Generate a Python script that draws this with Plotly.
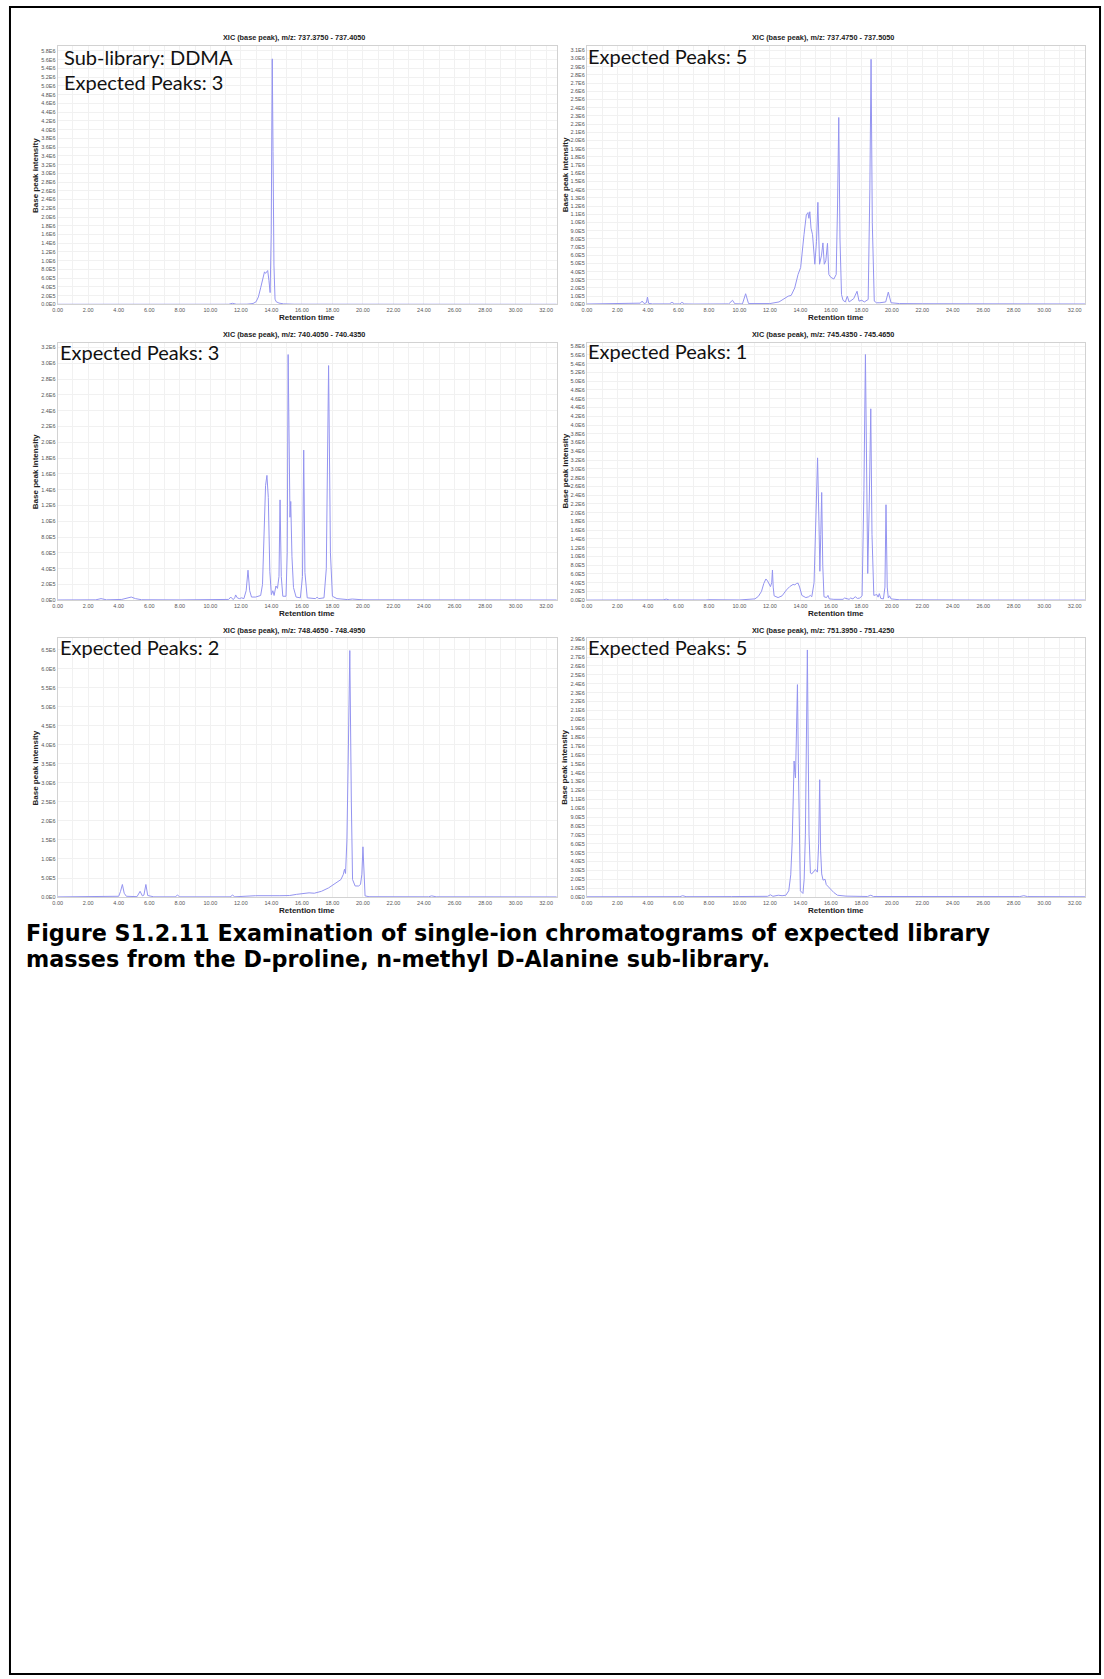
import math
import plotly.graph_objects as go

FIG_W, FIG_H = 1104, 1679

# ---------------- data ----------------
PANEL_TITLES = [
    "XIC (base peak), m/z: 737.3750 - 737.4050",
    "XIC (base peak), m/z: 737.4750 - 737.5050",
    "XIC (base peak), m/z: 740.4050 - 740.4350",
    "XIC (base peak), m/z: 745.4350 - 745.4650",
    "XIC (base peak), m/z: 748.4650 - 748.4950",
    "XIC (base peak), m/z: 751.3950 - 751.4250",
]
PANEL_NOTES = [
    ["Sub-library: DDMA", "Expected Peaks: 3"],
    ["Expected Peaks: 5"],
    ["Expected Peaks: 3"],
    ["Expected Peaks: 1"],
    ["Expected Peaks: 2"],
    ["Expected Peaks: 5"],
]
X_TITLE = "Retention time"
Y_TITLE = "Base peak intensity"
CAPTION_LINES = [
    "Figure S1.2.11 Examination of single-ion chromatograms of expected library",
    "masses from the D-proline, n-methyl D-Alanine sub-library.",
]

# retention time (min) and base peak intensity (x 1E6)
TIME_1 = [0.0, 2.0, 4.0, 5.0, 5.4, 5.7, 6.0, 6.3, 7.0, 9.0,
          11.2, 11.45, 11.7, 12.4, 12.8, 13.0, 13.15, 13.3, 13.45, 13.55,
          13.62, 13.7, 13.76, 13.84, 13.92, 13.99, 14.06, 14.11, 14.17, 14.24,
          14.32, 14.5, 14.8, 15.5, 18.3, 18.6, 18.9, 19.5, 24.0, 32.7]
INT_1 = [0.002, 0.002, 0.003, 0.004, 0.012, 0.007, 0.013, 0.004, 0.002, 0.003,
         0.003, 0.025, 0.004, 0.005, 0.02, 0.06, 0.17, 0.38, 0.63, 0.745,
         0.71, 0.76, 0.775, 0.55, 0.27, 1.6, 5.62, 3.5, 0.9, 0.12,
         0.06, 0.03, 0.012, 0.004, 0.004, 0.014, 0.004, 0.003, 0.002, 0.002]

TIME_2 = [0.0, 3.0, 3.5, 3.62, 3.75, 3.9, 3.97, 4.05, 4.3, 5.4,
          5.58, 5.75, 6.1, 6.23, 6.4, 7.0, 9.3, 9.55, 9.7, 10.2,
          10.41, 10.6, 11.0, 12.0, 12.6, 12.98, 13.2, 13.4, 13.63, 13.85,
          14.02, 14.24, 14.39, 14.5, 14.56, 14.62, 14.7, 14.8, 14.95, 15.06,
          15.15, 15.26, 15.39, 15.48, 15.57, 15.67, 15.78, 15.87, 16.0, 16.2,
          16.35, 16.44, 16.52, 16.6, 16.7, 16.8, 16.95, 17.08, 17.2, 17.5,
          17.72, 17.85, 18.03, 18.2, 18.45, 18.56, 18.64, 18.72, 18.85, 19.0,
          19.22, 19.6, 19.77, 19.95, 20.5, 22.0, 26.0, 32.7]
INT_2 = [0.005, 0.006, 0.015, 0.04, 0.01, 0.02, 0.09, 0.012, 0.006, 0.006,
         0.025, 0.006, 0.006, 0.025, 0.006, 0.004, 0.006, 0.05, 0.008, 0.006,
         0.13, 0.01, 0.008, 0.01, 0.03, 0.08, 0.1, 0.11, 0.2, 0.365,
         0.45, 0.85, 1.09, 1.12, 1.05, 1.13, 0.93, 0.85, 0.49, 0.77,
         1.245, 0.49, 0.6, 0.75, 0.49, 0.53, 0.745, 0.365, 0.33, 0.31,
         0.365, 1.2, 2.28, 0.8, 0.12, 0.05, 0.03, 0.1, 0.03, 0.07,
         0.16, 0.04, 0.05, 0.03, 0.06, 1.4, 2.99, 1.0, 0.04, 0.02,
         0.02, 0.03, 0.15, 0.02, 0.01, 0.008, 0.006, 0.005]

TIME_3 = [0.0, 2.5, 2.84, 3.2, 4.2, 4.5, 4.82, 5.1, 5.5, 8.0,
          10.5, 11.2, 11.34, 11.5, 11.6, 11.66, 11.77, 11.9, 12.05, 12.2,
          12.35, 12.47, 12.58, 12.7, 12.97, 13.3, 13.42, 13.51, 13.62, 13.71,
          13.8, 13.9, 14.0, 14.1, 14.18, 14.3, 14.4, 14.5, 14.57, 14.65,
          14.75, 14.96, 15.04, 15.1, 15.17, 15.22, 15.27, 15.35, 15.45, 15.62,
          15.9, 16.04, 16.12, 16.2, 16.35, 16.9, 17.0, 17.1, 17.45, 17.6,
          17.75, 17.87, 18.0, 18.3, 19.0, 19.3, 20.0, 24.0, 32.7]
INT_3 = [0.003, 0.005, 0.02, 0.005, 0.01, 0.025, 0.04, 0.02, 0.006, 0.004,
         0.005, 0.01, 0.04, 0.008, 0.03, 0.067, 0.03, 0.02, 0.03, 0.02,
         0.12, 0.38, 0.12, 0.04, 0.04, 0.06, 0.2, 0.78, 1.45, 1.58,
         1.3, 0.36, 0.07, 0.12, 0.06, 0.18, 0.15, 0.3, 1.27, 0.3,
         0.05, 0.05, 0.6, 3.11, 1.6, 1.05, 1.25, 0.55, 0.16, 0.04,
         0.03, 0.3, 1.9, 0.35, 0.03, 0.02, 0.04, 0.02, 0.03, 0.4,
         2.97, 0.6, 0.05, 0.02, 0.008, 0.015, 0.005, 0.004, 0.003]

TIME_4 = [0.0, 2.6, 2.8, 3.0, 3.8, 4.0, 4.2, 5.0, 5.2, 5.4,
          7.8, 8.0, 10.0, 10.3, 10.6, 11.02, 11.25, 11.45, 11.6, 11.74,
          11.85, 12.04, 12.12, 12.17, 12.22, 12.28, 12.54, 12.8, 13.09, 13.3,
          13.52, 13.64, 13.74, 13.85, 13.95, 14.1, 14.36, 14.55, 14.65, 14.75,
          14.9, 15.02, 15.13, 15.22, 15.28, 15.34, 15.4, 15.47, 15.55, 15.72,
          15.81, 15.9, 16.2, 16.8, 16.9, 17.2, 17.3, 17.45, 17.6, 17.75,
          17.9, 18.05, 18.17, 18.27, 18.35, 18.42, 18.52, 18.62, 18.7, 18.82,
          18.92, 19.02, 19.1, 19.18, 19.28, 19.45, 19.55, 19.62, 19.7, 19.77,
          19.85, 19.95, 20.5, 22.0, 26.0, 32.7]
INT_4 = [0.003, 0.004, 0.015, 0.004, 0.005, 0.015, 0.005, 0.008, 0.025, 0.006,
         0.005, 0.012, 0.006, 0.015, 0.008, 0.03, 0.09, 0.2, 0.38, 0.485,
         0.44, 0.31, 0.4, 0.69, 0.3, 0.1, 0.06, 0.1, 0.235, 0.31,
         0.36, 0.35, 0.38, 0.39, 0.3, 0.11, 0.06, 0.08, 0.11, 0.08,
         0.4, 2.2, 3.25, 1.8, 0.66, 1.5, 2.46, 0.8, 0.08, 0.06,
         0.11, 0.03, 0.02, 0.02, 0.05, 0.02, 0.05, 0.03, 0.08, 0.04,
         0.05, 0.1, 2.5, 5.61, 2.8, 0.61, 2.2, 4.37, 1.5, 0.11,
         0.12, 0.13, 0.07, 0.15, 0.04, 0.03, 0.3, 2.18, 0.3, 0.05,
         0.1, 0.03, 0.01, 0.006, 0.004, 0.003]

TIME_5 = [0.0, 3.5, 4.0, 4.12, 4.24, 4.36, 4.5, 5.2, 5.4, 5.55,
          5.65, 5.78, 5.9, 6.3, 7.7, 7.85, 8.0, 11.3, 11.46, 11.6,
          12.97, 14.56, 15.2, 15.65, 16.1, 16.47, 16.81, 17.28, 17.75, 18.1,
          18.33, 18.56, 18.72, 18.79, 18.86, 18.95, 19.03, 19.14, 19.24, 19.32,
          19.49, 19.72, 19.84, 19.93, 20.0, 20.07, 20.14, 20.4, 24.3, 24.5,
          24.8, 32.7]
INT_5 = [0.003, 0.005, 0.02, 0.15, 0.33, 0.1, 0.02, 0.01, 0.15, 0.03,
         0.05, 0.33, 0.04, 0.005, 0.005, 0.05, 0.005, 0.005, 0.05, 0.006,
         0.035, 0.035, 0.04, 0.07, 0.1, 0.11, 0.1, 0.15, 0.24, 0.33,
         0.38, 0.46, 0.6, 0.73, 0.62, 1.5, 3.5, 6.48, 2.5, 0.46,
         0.29, 0.29, 0.33, 0.6, 1.32, 0.4, 0.03, 0.008, 0.006, 0.03,
         0.006, 0.003]

TIME_6 = [0.0, 3.5, 6.1, 6.28, 6.5, 9.5, 11.0, 11.85, 12.04, 12.2,
          12.55, 12.8, 13.05, 13.24, 13.37, 13.46, 13.53, 13.59, 13.64, 13.68,
          13.75, 13.81, 13.87, 13.92, 14.0, 14.17, 14.25, 14.33, 14.4, 14.46,
          14.52, 14.57, 14.66, 14.75, 14.83, 14.92, 14.98, 15.05, 15.12, 15.2,
          15.27, 15.33, 15.4, 15.49, 15.62, 15.7, 15.85, 16.0, 16.2, 16.44,
          17.0, 18.4, 18.62, 18.8, 20.0, 24.0, 28.4, 28.66, 28.9, 32.7]
INT_6 = [0.003, 0.004, 0.004, 0.015, 0.004, 0.005, 0.006, 0.008, 0.025, 0.008,
         0.02, 0.015, 0.02, 0.07, 0.25, 0.6, 1.08, 1.53, 1.4, 1.34,
         1.9, 2.39, 1.5, 0.7, 0.07, 0.04, 0.2, 0.7, 1.9, 2.78,
         1.6, 0.7, 0.27, 0.26, 0.28, 0.29, 0.31, 0.3, 0.28, 0.6,
         1.32, 0.52, 0.26, 0.19, 0.2, 0.14, 0.11, 0.08, 0.05, 0.02,
         0.01, 0.006, 0.02, 0.006, 0.005, 0.004, 0.005, 0.015, 0.005, 0.003]

TIMES = [TIME_1, TIME_2, TIME_3, TIME_4, TIME_5, TIME_6]
INTENSITIES_E6 = [INT_1, INT_2, INT_3, INT_4, INT_5, INT_6]

# axis ticks
X_TICK_VALUES = list(range(0, 33, 2))
X_TICK_TEXT = [f"{v:.2f}" for v in X_TICK_VALUES]
X_MAX = 32.7
Y_TICK_STEP = [200000, 100000, 200000, 200000, 500000, 100000]
Y_TICK_TOP = [5800000, 3100000, 3200000, 5800000, 6500000, 2900000]
Y_MAX = [5.91e6, 3.15e6, 3.26e6, 5.88e6, 6.8e6, 2.91e6]


def sci_label(v):
    if v == 0:
        return "0.0E0"
    e = int(math.floor(math.log10(v) + 1e-9))
    return f"{v / 10 ** e:.1f}E{e}"


Y_TICK_VALUES = [list(range(0, top + 1, step)) for step, top in zip(Y_TICK_STEP, Y_TICK_TOP)]
Y_TICK_TEXT = [[sci_label(v) for v in vals] for vals in Y_TICK_VALUES]

# ---------------- layout (pixel boxes) ----------------
LEFT_X = (52.9, 554.3)
RIGHT_X = (584.6, 1085.3)
ROWS_Y = [(44.3, 303.3), (341.7, 600.0), (638.3, 897.7)]
PANEL_BOX = []
for r in ROWS_Y:
    PANEL_BOX.append((LEFT_X, r))
    PANEL_BOX.append((RIGHT_X, r))


def px(xp):
    return xp / FIG_W


def py(yp):
    return 1 - yp / FIG_H


LINE_COLOR = "#9494f0"
GRID = "#f1f1f1"
FONT_SMALL = "Liberation Sans, Arial, sans-serif"

fig = go.Figure()
annotations = []
layout = dict(
    width=FIG_W, height=FIG_H, margin=dict(l=0, r=0, t=0, b=0),
    paper_bgcolor="white", plot_bgcolor="white", showlegend=False,
)

for i in range(6):
    k = i + 1
    xa = "xaxis" if k == 1 else f"xaxis{k}"
    ya = "yaxis" if k == 1 else f"yaxis{k}"
    xr = "x" if k == 1 else f"x{k}"
    yr = "y" if k == 1 else f"y{k}"
    (x0, x1), (y0, y1) = PANEL_BOX[i]
    fig.add_trace(go.Scatter(
        x=TIMES[i], y=[v * 1e6 for v in INTENSITIES_E6[i]],
        xaxis=xr, yaxis=yr, mode="lines",
        line=dict(color=LINE_COLOR, width=1), hoverinfo="skip",
    ))
    layout[xa] = dict(
        domain=[px(x0), px(x1)], anchor=yr, range=[0, X_MAX],
        tickvals=X_TICK_VALUES, ticktext=X_TICK_TEXT,
        tickfont=dict(family=FONT_SMALL, size=5.5, color="#555"),
        showgrid=True, gridcolor=GRID, gridwidth=1,
        minor=dict(dtick=1, tick0=0, showgrid=True, gridcolor=GRID),
        showline=True, linecolor="#d2d2d2", linewidth=1, mirror=True,
        zeroline=False, ticks="", fixedrange=True,
    )
    layout[ya] = dict(
        domain=[py(y1), py(y0)], anchor=xr, range=[0, Y_MAX[i]],
        tickvals=Y_TICK_VALUES[i], ticktext=Y_TICK_TEXT[i],
        tickfont=dict(family=FONT_SMALL, size=5.5, color="#555"),
        showgrid=True, gridcolor=GRID, gridwidth=1,
        showline=True, linecolor="#d2d2d2", linewidth=1, mirror=True,
        zeroline=False, ticks="", fixedrange=True,
    )
    # panel title
    annotations.append(dict(
        text=f"<b>{PANEL_TITLES[i]}</b>", x=px((x0 + x1) / 2 - 13), y=py(y0 - 8.3),
        xref="paper", yref="paper", xanchor="center", yanchor="middle",
        showarrow=False, font=dict(family=FONT_SMALL, size=7.3, color="#222"),
    ))
    # x axis title
    annotations.append(dict(
        text=f"<b>{X_TITLE}</b>", x=px((x0 + x1) / 2), y=py(y1 + 13.5),
        xref="paper", yref="paper", xanchor="center", yanchor="middle",
        showarrow=False, font=dict(family=FONT_SMALL, size=8, color="#222"),
    ))
    # y axis title
    annotations.append(dict(
        text=f"<b>{Y_TITLE}</b>", x=px(x0 - 22), y=py((y0 + y1) / 2),
        xref="paper", yref="paper", xanchor="center", yanchor="middle",
        textangle=-90, showarrow=False,
        font=dict(family=FONT_SMALL, size=8, color="#222"),
    ))

# big in-panel notes: (left x, baseline y) per line
NOTE_POS = [
    [(60.7, 63.3), (60.7, 88.3)],
    [(587.0, 61.7)],
    [(56.0, 358.3)],
    [(587.0, 358.0)],
    [(56.0, 655.0)],
    [(587.0, 655.0)],
]
NOTE_FS = 20
for i in range(6):
    for line, (lx, base) in zip(PANEL_NOTES[i], NOTE_POS[i]):
        annotations.append(dict(
            text=line, x=px(lx - 3), y=py(base - 0.387 * NOTE_FS),
            xref="paper", yref="paper", xanchor="left", yanchor="middle",
            showarrow=False, font=dict(family="Lato, Carlito, sans-serif", size=NOTE_FS, color="#111"),
        ))

CAP_FS = 22.3
for line, base in zip(CAPTION_LINES, [941.5, 967.5]):
    annotations.append(dict(
        text=f"<b>{line}</b>", x=px(21), y=py(base - 0.346 * CAP_FS),
        xref="paper", yref="paper", xanchor="left", yanchor="middle",
        borderpad=0, borderwidth=0,
        showarrow=False, font=dict(family="DejaVu Sans, sans-serif", size=CAP_FS, color="#000"),
    ))

layout["annotations"] = annotations
layout["shapes"] = [dict(
    type="rect", xref="paper", yref="paper",
    x0=px(5), x1=px(1100), y0=py(1677), y1=py(5),
    line=dict(color="#000", width=2), fillcolor="rgba(0,0,0,0)",
)]
fig.update_layout(**layout)
fig.write_html("out.html")
